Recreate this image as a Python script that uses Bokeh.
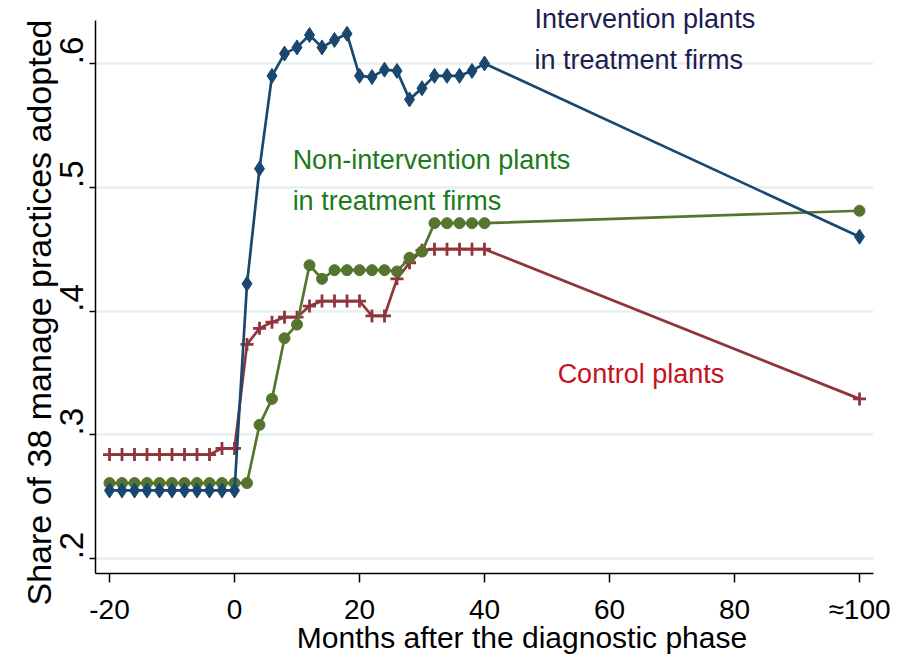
from bokeh.plotting import figure
from bokeh.models import Range1d, FixedTicker, Label, LinearAxis, Title
from bokeh.embed import file_html
from bokeh.resources import INLINE

# ---- data ----
months_pre = [-20, -18, -16, -14, -12, -10, -8, -6, -4, -2, 0]
months_post = [2, 4, 6, 8, 10, 12, 14, 16, 18, 20, 22, 24, 26, 28, 30, 32, 34, 36, 38, 40]
months_late = [100]
months = months_pre + months_post + months_late

intervention = ([0.255] * 11 +
                [0.422, 0.515, 0.590, 0.608, 0.613, 0.623, 0.613, 0.619, 0.624, 0.590,
                 0.589, 0.595, 0.594, 0.571, 0.580, 0.590, 0.590, 0.590, 0.594, 0.600] +
                [0.460])
non_intervention = ([0.261] * 11 +
                    [0.261, 0.308, 0.329, 0.378, 0.389, 0.437, 0.426, 0.433, 0.433, 0.433,
                     0.433, 0.433, 0.432, 0.443, 0.448, 0.471, 0.471, 0.471, 0.471, 0.471] +
                    [0.481])
control = ([0.284] * 9 + [0.289, 0.289] +
           [0.373, 0.386, 0.391, 0.395, 0.395, 0.404, 0.408, 0.408, 0.408, 0.408,
            0.396, 0.396, 0.426, 0.439, 0.449, 0.450, 0.450, 0.450, 0.450, 0.450] +
           [0.329])

x_ticks = [-20, 0, 20, 40, 60, 80, 100]
x_tick_labels = ["-20", "0", "20", "40", "60", "80", "\u2248100"]
y_ticks = [0.2, 0.3, 0.4, 0.5, 0.6]
y_tick_labels = [".2", ".3", ".4", ".5", ".6"]
x_title = "Months after the diagnostic phase"
y_title = "Share of 38 manage practices adopted"

BLUE = "#1a476f"
RED = "#90353b"
GREEN = "#55752f"
FONT = "Liberation Sans"
NBSP = "\u00a0"

Y_LO, Y_HI = 0.1879, 0.6509   # frame limits
AX_LO, AX_HI = 0.1879, 0.635  # extent of the drawn y axis line

p = figure(frame_width=778, frame_height=573, output_backend="svg", toolbar_location=None,
           x_range=Range1d(-22.24, 102.24), y_range=Range1d(Y_LO, Y_HI),
           min_border_left=95, min_border_right=20, min_border_top=0, min_border_bottom=10)
p.outline_line_color = None
p.background_fill_color = "white"
p.border_fill_color = "white"

# grid
p.xgrid.grid_line_color = None
p.ygrid.grid_line_color = "#e6eff0"
p.ygrid.grid_line_width = 2.5
p.ygrid.ticker = FixedTicker(ticks=y_ticks)

# x axis (title padded so that it sits right of centre, as in the original)
xax = p.xaxis[0]
xax.ticker = FixedTicker(ticks=x_ticks)
xax.major_label_overrides = {t: l for t, l in zip(x_ticks, x_tick_labels)}
xax.axis_line_color = "black"
xax.axis_line_width = 1.5
xax.major_tick_line_color = "black"
xax.major_tick_line_width = 1.5
xax.minor_tick_line_color = None
xax.major_tick_in = 0
xax.major_tick_out = 9
xax.major_label_standoff = 11
xax.major_label_text_font = FONT
xax.major_label_text_font_size = "28px"
xax.major_label_text_color = "black"
xax.axis_label = NBSP * 9 + x_title
xax.axis_label_text_font = FONT
xax.axis_label_text_font_size = "30px"
xax.axis_label_text_font_style = "normal"
xax.axis_label_text_color = "black"
xax.axis_label_standoff = -7

# y axis: line and ticks only
yax = p.yaxis[0]
yax.ticker = FixedTicker(ticks=y_ticks)
yax.bounds = (AX_LO, AX_HI)
yax.axis_line_color = "black"
yax.axis_line_width = 1.5
yax.major_tick_line_color = "black"
yax.major_tick_line_width = 1.5
yax.minor_tick_line_color = None
yax.major_tick_in = 0
yax.major_tick_out = 6
yax.major_label_standoff = 0
yax.major_label_overrides = {t: "" for t in y_ticks}

# y axis: labels (Stata-style vertical labels that start at the tick)
label_shift = 0.0105
label_ticks = [t + label_shift for t in y_ticks]
ylab = LinearAxis(ticker=FixedTicker(ticks=label_ticks),
                  major_label_overrides={t: l for t, l in zip(label_ticks, y_tick_labels)},
                  major_label_orientation="vertical",
                  major_label_text_font=FONT, major_label_text_font_size="33px",
                  major_label_text_color="black", major_label_standoff=6,
                  axis_line_color=None, major_tick_line_color=None,
                  minor_tick_line_color=None, major_tick_in=0, major_tick_out=0)
p.add_layout(ylab, "left")

# y title, placed like the original (slightly below the frame's centre)
p.add_layout(Title(text=y_title, align="left", offset=-32, standoff=0,
                   text_font=FONT, text_font_size="34px", text_font_style="normal",
                   text_color="black"), "left")

# series
p.line(months, control, line_color=RED, line_width=2.7)
p.scatter(months, control, marker="cross", size=13, line_color=RED, line_width=2.8)
p.line(months, non_intervention, line_color=GREEN, line_width=2.7)
p.scatter(months, non_intervention, marker="circle", size=11, fill_color=GREEN, line_color=GREEN)
p.line(months, intervention, line_color=BLUE, line_width=2.7)
p.scatter(months, intervention, marker="diamond", size=15, fill_color=BLUE, line_color=BLUE)

# annotations
def add_label(x, y, text, color):
    p.add_layout(Label(x=x, y=y, text=text, text_color=color, text_font=FONT,
                       text_font_size="27px", text_baseline="alphabetic", text_align="left"))

add_label(48.0, 0.6360, "Intervention plants", "#1c1c50")
add_label(48.0, 0.6028, "in treatment firms", "#1c1c50")
add_label(9.3, 0.5222, "Non-intervention plants", "#1b7a1b")
add_label(9.3, 0.4891, "in treatment firms", "#1b7a1b")
add_label(51.7, 0.3489, "Control plants", "#c4121c")

open("out.html", "w").write(file_html(p, INLINE))
